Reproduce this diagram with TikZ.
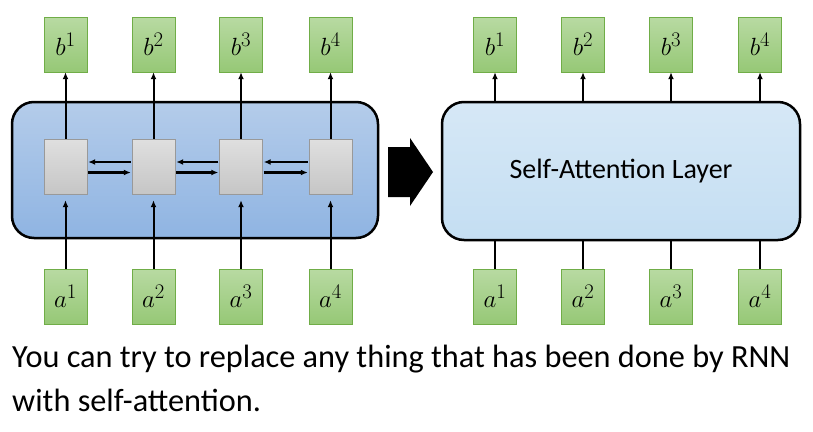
\documentclass[tikz,border=0pt]{standalone}
\usepackage{fontspec}
\setmainfont{Carlito}
\usetikzlibrary{arrows.meta}
\definecolor{gtop}{RGB}{184,218,162}
\definecolor{gbot}{RGB}{150,200,118}
\definecolor{gbrd}{RGB}{112,173,71}
\definecolor{btop}{RGB}{180,204,234}
\definecolor{bbot}{RGB}{143,180,226}
\definecolor{stop}{RGB}{214,232,246}
\definecolor{sbot}{RGB}{196,222,242}
\begin{document}
\begin{tikzpicture}[x=1pt,y=-1pt,
  io/.style={draw=gbrd, top color=gtop, bottom color=gbot, minimum width=43pt, minimum height=55pt, inner sep=0pt, font=\fontsize{31}{32}\selectfont},
  cell/.style={draw=gray!80, top color=gray!25, bottom color=gray!45, minimum width=43pt, minimum height=55pt, inner sep=0pt},
  arr/.style={-{Latex[length=7pt,width=6pt]}, line width=2pt},
  harr/.style={-{Latex[length=7pt,width=6pt]}, line width=2.2pt}]
\useasboundingbox (0,0) rectangle (813,431);
% left box
\node[draw, line width=2.5pt, rounded corners=22pt, top color=btop, bottom color=bbot, minimum width=366pt, minimum height=136pt, inner sep=0pt] (rnn) at (195,170) {};
\foreach \i/\x in {1/65.5,2/153.5,3/241,4/330.5}{
  \node[io] (lb\i) at (\x,44.5) {$b^{\i}$};
  \node[io] (la\i) at (\x,296.5) {$a^{\i}$};
  \node[cell] (c\i) at (\x,166.5) {};
  \draw[arr] (c\i.north) -- (lb\i.south);
  \draw[arr] (la\i.north) -- ([yshift=-6pt]c\i.south);
}
\foreach \i/\j in {1/2,2/3,3/4}{
  \draw[harr] ([yshift=4.5pt,xshift=-1pt]c\j.west) -- ([yshift=4.5pt,xshift=1pt]c\i.east);
  \draw[harr] ([yshift=-6pt,xshift=1pt]c\i.east) -- ([yshift=-6pt,xshift=-1pt]c\j.west);
}
% big arrow
\fill (388,147) -- (410,147) -- (410,138) -- (433,172) -- (410,206) -- (410,197) -- (388,197) -- cycle;
% right box
\node[draw, line width=2.5pt, rounded corners=22pt, top color=stop, bottom color=sbot, minimum width=358pt, minimum height=138pt, inner sep=0pt, font=\fontsize{28}{30}\selectfont] (sa) at (621,171) {Self-Attention Layer};
\foreach \i/\x in {1/495,2/583,3/671,4/760}{
  \node[io] (rb\i) at (\x,44.5) {$b^{\i}$};
  \node[io] (ra\i) at (\x,296.5) {$a^{\i}$};
  \draw[arr] (sa.north -| rb\i) -- (rb\i.south);
  \draw[line width=2pt] (ra\i.north) -- (sa.south -| ra\i);
}
\node[anchor=north west, align=left, inner sep=0pt, font=\fontsize{32.3}{44}\selectfont] (txt) at (12,345) {You can try to replace any thing that has been done by RNN\\with self-attention.};
\end{tikzpicture}
\end{document}
